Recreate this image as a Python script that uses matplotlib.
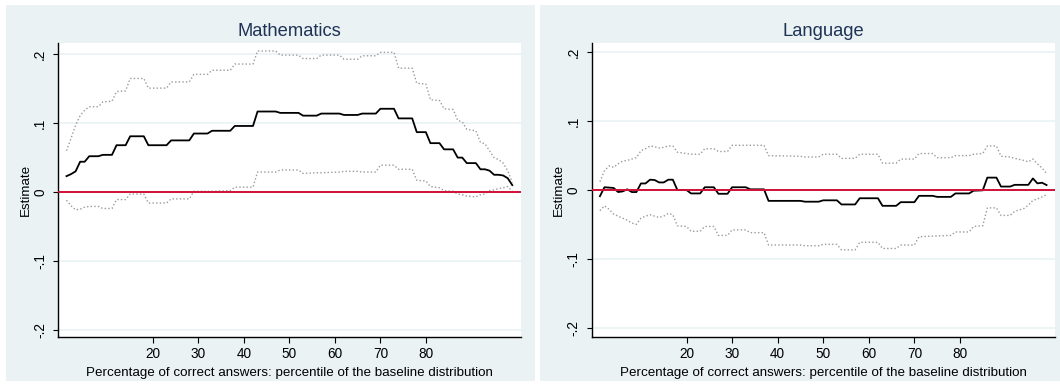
import matplotlib
matplotlib.use("Agg")
import matplotlib.pyplot as plt
from matplotlib.patches import Rectangle

plt.rcParams['font.family'] = ['Liberation Sans', 'DejaVu Sans']

# ---------------- data (percentile, value) at the corners of the step curves ----------------
math_est_x = [1, 2, 3, 4, 5, 6, 8, 9, 11, 12, 14, 15, 18, 19, 23, 24, 28, 29, 32, 33, 37, 38, 42, 43, 47, 48, 52,
              53, 56, 57, 61, 62, 65, 66, 69, 70, 73, 74, 77, 78, 80, 81, 83, 84, 86, 87, 88, 89, 91, 92, 93, 94, 95,
              96, 97, 98, 99]
math_est_y = [0.023, 0.026, 0.030, 0.044, 0.044, 0.052, 0.052, 0.054, 0.054, 0.068, 0.068, 0.081, 0.081, 0.068,
              0.068, 0.075, 0.075, 0.085, 0.085, 0.089, 0.089, 0.096, 0.096, 0.117, 0.117, 0.115, 0.115, 0.111,
              0.111, 0.114, 0.114, 0.112, 0.112, 0.114, 0.114, 0.121, 0.121, 0.107, 0.107, 0.087, 0.087, 0.071,
              0.071, 0.062, 0.062, 0.050, 0.050, 0.042, 0.042, 0.033, 0.033, 0.031, 0.025, 0.025, 0.024, 0.020,
              0.010]

math_hi_x = [1, 2, 3, 4, 5, 6, 8, 9, 11, 12, 14, 15, 18, 19, 23, 24, 28, 29, 32, 33, 37, 38, 42, 43, 47, 48, 52,
             53, 56, 57, 61, 62, 65, 66, 69, 70, 73, 74, 77, 78, 80, 81, 83, 84, 86, 87, 88, 89, 91, 92, 93, 94, 95,
             96, 97, 98, 99]
math_hi_y = [0.060, 0.078, 0.097, 0.111, 0.119, 0.124, 0.124, 0.131, 0.132, 0.146, 0.147, 0.165, 0.165, 0.151,
             0.151, 0.160, 0.160, 0.171, 0.171, 0.177, 0.177, 0.186, 0.186, 0.205, 0.205, 0.199, 0.199, 0.194,
             0.194, 0.199, 0.199, 0.193, 0.193, 0.198, 0.198, 0.203, 0.203, 0.180, 0.180, 0.158, 0.157, 0.134,
             0.133, 0.121, 0.120, 0.104, 0.102, 0.091, 0.089, 0.072, 0.070, 0.060, 0.050, 0.047, 0.042, 0.031,
             0.014]

math_lo_x = [1, 2, 3, 4, 5, 6, 8, 9, 11, 12, 14, 15, 18, 19, 23, 24, 28, 29, 32, 33, 37, 38, 42, 43, 47, 48, 52,
             53, 56, 57, 61, 62, 65, 66, 69, 70, 73, 74, 77, 78, 80, 81, 83, 84, 86, 87, 88, 89, 91, 92, 93, 94, 95,
             96, 97, 98, 99]
math_lo_y = [-0.012, -0.020, -0.026, -0.025, -0.022, -0.021, -0.021, -0.024, -0.024, -0.011, -0.011, -0.003,
             -0.003, -0.016, -0.016, -0.010, -0.010, 0.001, 0.001, 0.001, 0.002, 0.007, 0.007, 0.029, 0.029, 0.032,
             0.032, 0.027, 0.028, 0.028, 0.029, 0.030, 0.030, 0.029, 0.029, 0.039, 0.039, 0.033, 0.033, 0.017,
             0.016, 0.008, 0.006, 0.002, 0.001, -0.003, -0.004, -0.006, -0.007, -0.004, -0.003, 0.002, 0.003,
             0.005, 0.006, 0.008, 0.001]

lang_est_x = [1, 2, 4, 5, 6, 7, 8, 9, 10, 11, 12, 13, 14, 15, 16, 17, 18, 20, 21, 23, 24, 26, 27, 29, 30, 33, 34,
              37, 38, 45, 46, 49, 50, 53, 54, 57, 58, 62, 63, 66, 67, 70, 71, 74, 75, 78, 79, 82, 83, 85, 86, 88,
              89, 91, 92, 95, 96, 97, 98, 99]
lang_est_y = [-0.009, 0.004, 0.003, -0.003, -0.002, 0.001, -0.003, -0.003, 0.0095, 0.0095, 0.015, 0.0145, 0.011,
              0.011, 0.015, 0.015, 0.0, 0.0, -0.005, -0.005, 0.004, 0.004, -0.0055, -0.0055, 0.004, 0.004, 0.001,
              0.001, -0.0158, -0.0158, -0.017, -0.017, -0.015, -0.015, -0.021, -0.021, -0.012, -0.012, -0.023,
              -0.023, -0.0177, -0.0177, -0.0085, -0.0085, -0.010, -0.010, -0.005, -0.005, -0.001, -0.0005, 0.018,
              0.018, 0.005, 0.005, 0.0075, 0.0075, 0.0168, 0.0096, 0.0106, 0.0072]

lang_hi_x = [1, 2, 3, 4, 5, 6, 7, 8, 9, 10, 11, 12, 13, 14, 15, 16, 17, 18, 20, 21, 23, 24, 26, 27, 29, 30, 37,
             38, 45, 46, 49, 50, 53, 54, 57, 58, 62, 63, 66, 67, 70, 71, 74, 75, 78, 79, 82, 83, 85, 86, 88, 89,
             91, 92, 94, 95, 96, 97, 98, 99]
lang_hi_y = [0.012, 0.028, 0.035, 0.033, 0.038, 0.042, 0.043, 0.045, 0.047, 0.057, 0.060, 0.064, 0.063, 0.061,
             0.062, 0.064, 0.064, 0.055, 0.053, 0.052, 0.052, 0.060, 0.060, 0.056, 0.056, 0.065, 0.065, 0.050,
             0.049, 0.048, 0.048, 0.052, 0.052, 0.046, 0.046, 0.052, 0.052, 0.039, 0.039, 0.045, 0.045, 0.053,
             0.053, 0.047, 0.047, 0.050, 0.050, 0.052, 0.053, 0.064, 0.064, 0.049, 0.048, 0.046, 0.043, 0.041,
             0.045, 0.038, 0.032, 0.024]

lang_lo_x = [1, 2, 3, 4, 5, 6, 7, 8, 9, 10, 11, 12, 13, 14, 15, 16, 17, 18, 20, 21, 23, 24, 26, 27, 29, 30, 33,
             34, 37, 38, 45, 46, 49, 50, 53, 54, 57, 58, 62, 63, 66, 67, 70, 71, 74, 78, 79, 82, 83, 85, 86, 88,
             89, 91, 92, 94, 95, 96, 97, 98, 99]
lang_lo_y = [-0.030, -0.023, -0.028, -0.035, -0.038, -0.041, -0.044, -0.048, -0.050, -0.041, -0.038, -0.036,
             -0.038, -0.040, -0.038, -0.034, -0.036, -0.052, -0.053, -0.060, -0.060, -0.053, -0.053, -0.066,
             -0.066, -0.058, -0.058, -0.062, -0.062, -0.080, -0.080, -0.081, -0.081, -0.079, -0.079, -0.087,
             -0.087, -0.076, -0.076, -0.085, -0.085, -0.080, -0.080, -0.068, -0.067, -0.066, -0.061, -0.061,
             -0.053, -0.052, -0.026, -0.026, -0.037, -0.037, -0.031, -0.027, -0.022, -0.015, -0.013, -0.010,
             -0.007]

panel_titles = ["Mathematics", "Language"]
x_ticks = [20, 30, 40, 50, 60, 70, 80]
x_tick_labels = ["20", "30", "40", "50", "60", "70", "80"]
y_ticks = [-0.2, -0.1, 0.0, 0.1, 0.2]
y_tick_labels = ["-.2", "-.1", "0", ".1", ".2"]
x_label = "Percentage of correct answers: percentile of the baseline distribution"
y_label = "Estimate"

# ---------------- figure ----------------
W, H = 1060, 387
fig = plt.figure(figsize=(W / 100, H / 100), dpi=100, facecolor="white")

BG = "#EAF2F3"
TITLE_C = "#1F3357"
RED = "#D0103A"
CI_C = "#9A9A9A"

def px_rect(x0, y0, x1, y1):
    return [x0 / W, 1 - y1 / H, (x1 - x0) / W, (y1 - y0) / H]

# panel backgrounds
for (x0, x1) in [(6, 535), (540, 1060)]:
    r = px_rect(x0, 5, x1, 381)
    fig.patches.append(Rectangle((r[0], r[1]), r[2], r[3], transform=fig.transFigure,
                                 facecolor=BG, edgecolor="none", zorder=-10))

panels = [
    dict(title=panel_titles[0], rect=px_rect(58.3, 43, 520.7, 337), ylim=(-0.2108, 0.2166),
         est=(math_est_x, math_est_y), hi=(math_hi_x, math_hi_y), lo=(math_lo_x, math_lo_y)),
    dict(title=panel_titles[1], rect=px_rect(591.7, 43, 1055, 337), ylim=(-0.2137, 0.2137),
         est=(lang_est_x, lang_est_y), hi=(lang_hi_x, lang_hi_y), lo=(lang_lo_x, lang_lo_y)),
]

for p in panels:
    ax = fig.add_axes(p["rect"])
    ax.set_facecolor("white")
    ax.set_xlim(-0.8, 100.85)
    ax.set_ylim(*p["ylim"])
    for yt in y_ticks:
        ax.axhline(yt, color=BG, lw=1.2, zorder=0)
    ax.plot(*p["hi"], color=CI_C, lw=1.0, linestyle=(0, (1, 1.6)), zorder=2)
    ax.plot(*p["lo"], color=CI_C, lw=1.0, linestyle=(0, (1, 1.6)), zorder=2)
    ax.plot(*p["est"], color="black", lw=1.3, zorder=3)
    ax.axhline(0, color=RED, lw=1.4, zorder=4)

    for s in ["top", "right"]:
        ax.spines[s].set_visible(False)
    for s in ["left", "bottom"]:
        ax.spines[s].set_linewidth(1.0)
        ax.spines[s].set_color("black")

    ax.set_xticks(x_ticks)
    ax.set_xticklabels(x_tick_labels, fontsize=9.8)
    ax.set_yticks(y_ticks)
    ax.set_yticklabels(y_tick_labels, fontsize=9.8, rotation=90, va="center")
    ax.tick_params(axis="x", length=4, width=0.8, pad=3.2)
    ax.tick_params(axis="y", length=3.6, width=0.8, pad=4.5)
    ax.set_xlabel(x_label, fontsize=9.6, labelpad=4.5)
    ax.set_ylabel(y_label, fontsize=9.6, labelpad=0.8)

    cx = (p["rect"][0] + p["rect"][2] / 2)
    fig.text(cx, 1 - 36 / H, p["title"], ha="center", va="baseline", fontsize=13.2, color=TITLE_C)

fig.savefig("out.png", dpi=100, facecolor="white")
